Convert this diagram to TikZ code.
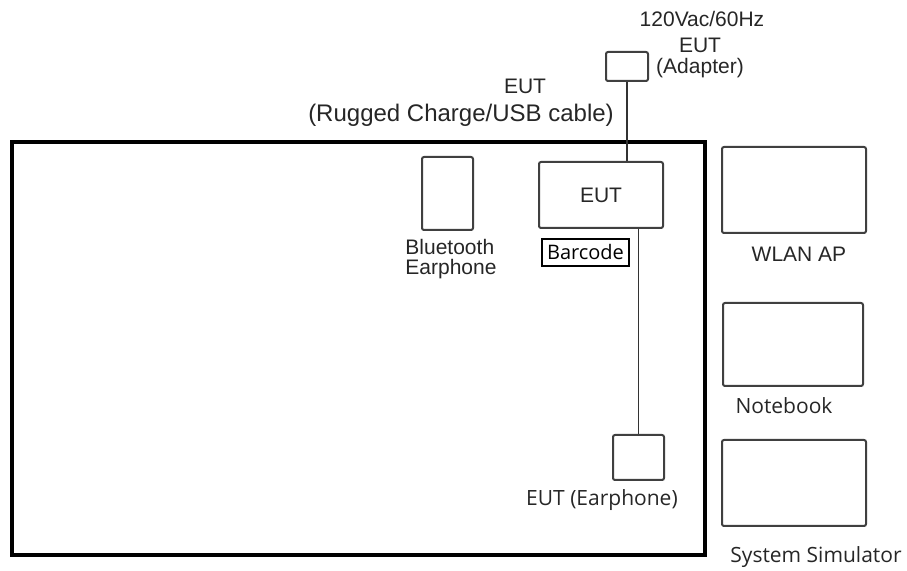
\documentclass[tikz,border=0pt]{standalone}
\usepackage{fontspec}
\setmainfont{Liberation Sans}
\newfontfamily\labelfont{Open Sans}
\usetikzlibrary{positioning}
\tikzset{
  unitbox/.style={draw=black!75, line width=1pt, rounded corners=1pt, fill=white, inner sep=0pt},
  framebox/.style={draw=black, line width=2pt},
  cableline/.style={draw=black!80, line width=0.9pt},
  tagbox/.style={draw=black, line width=0.8pt, inner sep=1pt, minimum width=43.5pt, minimum height=13.5pt, font=\labelfont\fontsize{10}{10}\selectfont},
  arialtext/.style={font=\fontsize{10.5}{10.5}\selectfont, text=black!85, align=center},
  opentext/.style={font=\labelfont\fontsize{10.5}{11}\selectfont, text=black!85}
}

\begin{document}
\begin{tikzpicture}[x=0.5pt, y=-0.5pt]
  \useasboundingbox (0,0) rectangle (907,571);
  % test table
  \draw[framebox] (12,142) rectangle (705,555);
  % units on the table
  \node[unitbox, minimum width=21pt, minimum height=14.5pt] (adapter) at (627,66.5) {};
  \node[unitbox, minimum width=62pt, minimum height=33pt, arialtext] (eut) at (601,195) {EUT};
  \node[unitbox, minimum width=25.5pt, minimum height=36.5pt] (bt) at (447.5,193.5) {};
  \node[tagbox] (barcode) at (585.5,252.5) {Barcode};
  \node[unitbox, minimum width=25.5pt, minimum height=22.5pt] (ear) at (638.5,457.5) {};
  % support units
  \node[unitbox, minimum width=72pt, minimum height=43pt] (wlan) at (794,190) {};
  \node[unitbox, minimum width=70pt, minimum height=41.5pt] (notebook) at (793,344.5) {};
  \node[unitbox, minimum width=72pt, minimum height=43pt] (simulator) at (794,483) {};
  % cables
  \draw[cableline] (adapter.south) -- (adapter.south |- eut.north);
  \draw[cableline] (ear.north |- eut.south) -- (ear.north);
  % labels
  \node[arialtext] (mains) at (702,19) {120Vac/60Hz};
  \node[arialtext, font=\fontsize{10.5}{10.5}\selectfont] (adapterlbl) at (700,58) {EUT\\(Adapter)};
  \node[arialtext] (cableeut) at (525,86) {EUT};
  \node[arialtext, font=\fontsize{12}{12}\selectfont] (cablelbl) at (461,115) {(Rugged Charge/USB cable)};
  \node[arialtext, align=left, font=\fontsize{10.5}{10}\selectfont] (btlbl) at (451,259) {Bluetooth\\Earphone};
  \node[opentext] (earlbl) at (602,500) {EUT (Earphone)};
  \node[arialtext] (wlanlbl) at (799,254) {WLAN AP};
  \node[opentext] (notebooklbl) at (784,406) {Notebook};
  \node[opentext] (simlbl) at (816,557) {System Simulator};
\end{tikzpicture}
\end{document}
